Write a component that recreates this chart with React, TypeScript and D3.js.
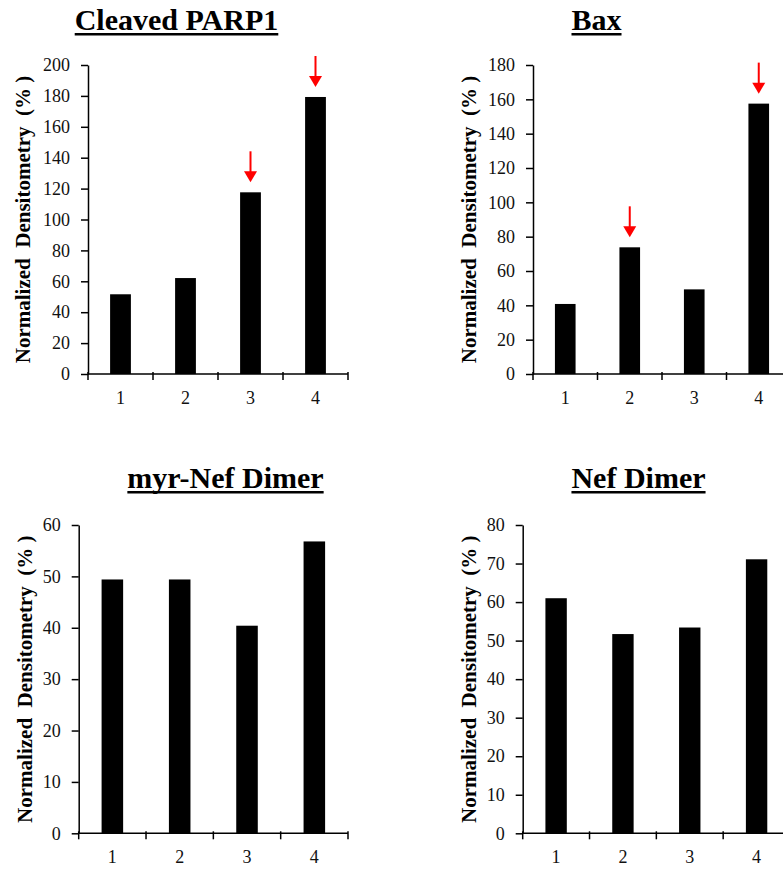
import React, { useEffect, useRef } from "react";
import * as d3 from "d3";

// lanes on the x axis
const categories = ["1", "2", "3", "4"];

// densitometry values (%)
const parpValues = [51.6, 62.1, 117.6, 179.3];
const baxValues = [40.8, 73.8, 49.3, 157.5];
const myrNefValues = [49.4, 49.4, 40.4, 56.8];
const nefValues = [61.0, 51.7, 53.4, 71.1];

const parpTicks = [0, 20, 40, 60, 80, 100, 120, 140, 160, 180, 200];
const baxTicks = [0, 20, 40, 60, 80, 100, 120, 140, 160, 180];
const myrNefTicks = [0, 10, 20, 30, 40, 50, 60];
const nefTicks = [0, 10, 20, 30, 40, 50, 60, 70, 80];

const parpArrows = ["3", "4"];
const baxArrows = ["2", "4"];

const titles = ["Cleaved PARP1", "Bax", "myr-Nef Dimer", "Nef Dimer"];
const yLabel = "Normalized\u00a0\u00a0Densitometry\u00a0\u00a0(%\u00a0)";

const FONT = "'Liberation Serif', 'Times New Roman', serif";

type Panel = {
  title: string;
  values: number[];
  ticks: number[];
  arrows: string[];
  x0: number;
  x1: number;
  y0: number;
  y1: number;
  titleX: number;
  titleY: number;
  labelX: number;
};

const panels: Panel[] = [
  { title: titles[0], values: parpValues, ticks: parpTicks, arrows: parpArrows,
    x0: 88, x1: 348, y0: 374, y1: 65, titleX: 176.5, titleY: 30, labelX: 30 },
  { title: titles[1], values: baxValues, ticks: baxTicks, arrows: baxArrows,
    x0: 533, x1: 791, y0: 374, y1: 65, titleX: 596.5, titleY: 30, labelX: 476 },
  { title: titles[2], values: myrNefValues, ticks: myrNefTicks, arrows: [],
    x0: 78.7, x1: 348, y0: 833.3, y1: 525, titleX: 225.5, titleY: 488, labelX: 31.5 },
  { title: titles[3], values: nefValues, ticks: nefTicks, arrows: [],
    x0: 522.7, x1: 790, y0: 833.3, y1: 525, titleX: 638.5, titleY: 488, labelX: 476 },
];

export default function App() {
  const ref = useRef<SVGSVGElement>(null);

  useEffect(() => {
    const svg = d3.select(ref.current);
    svg.selectAll("*").remove();

    panels.forEach((p) => {
      const g = svg.append("g");
      const x = d3.scaleBand<string>().domain(categories).range([p.x0, p.x1]);
      const y = d3.scaleLinear()
        .domain([0, p.ticks[p.ticks.length - 1]])
        .range([p.y0, p.y1]);
      const bw = x.bandwidth() * 0.32;

      // title with underline
      const t = g.append("text")
        .attr("x", p.titleX)
        .attr("y", p.titleY)
        .attr("text-anchor", "middle")
        .attr("font-family", FONT)
        .attr("font-weight", "bold")
        .attr("font-size", 30)
        .text(p.title);
      const tw = (t.node() as SVGTextElement).getComputedTextLength();
      g.append("rect")
        .attr("x", p.titleX - tw / 2)
        .attr("y", p.titleY + 3)
        .attr("width", tw)
        .attr("height", 2.5)
        .attr("fill", "#000");

      // bars
      g.selectAll("rect.bar")
        .data(p.values)
        .enter()
        .append("rect")
        .attr("class", "bar")
        .attr("x", (d, i) => x(categories[i])! + x.bandwidth() / 2 - bw / 2)
        .attr("y", (d) => y(d))
        .attr("width", bw)
        .attr("height", (d) => y(0) - y(d))
        .attr("fill", "#000");

      // y axis
      const ya = g.append("g")
        .attr("transform", `translate(${p.x0},0)`)
        .call(d3.axisLeft(y).tickValues(p.ticks).tickSize(7).tickSizeOuter(0).tickPadding(11));
      ya.select(".domain").attr("stroke", "#000").attr("stroke-width", 1.5);
      ya.selectAll(".tick line").attr("stroke", "#000").attr("stroke-width", 1.5);
      ya.selectAll(".tick text")
        .attr("font-family", FONT)
        .attr("font-size", 18)
        .attr("fill", "#111");

      // x axis line + crossing ticks at band edges
      g.append("line")
        .attr("x1", p.x0).attr("x2", p.x1)
        .attr("y1", p.y0).attr("y2", p.y0)
        .attr("stroke", "#000").attr("stroke-width", 1.5);
      const edges = categories.map((c) => x(c)!).concat([x.range()[1]]);
      g.selectAll("line.xt")
        .data(edges)
        .enter()
        .append("line")
        .attr("class", "xt")
        .attr("x1", (d) => d).attr("x2", (d) => d)
        .attr("y1", p.y0 - 2).attr("y2", p.y0 + 6)
        .attr("stroke", "#000").attr("stroke-width", 1.5);
      g.selectAll("text.xl")
        .data(categories)
        .enter()
        .append("text")
        .attr("class", "xl")
        .attr("x", (d) => x(d)! + x.bandwidth() / 2)
        .attr("y", p.y0 + 30)
        .attr("text-anchor", "middle")
        .attr("font-family", FONT)
        .attr("font-size", 18)
        .attr("fill", "#111")
        .text((d) => d);

      // y label
      g.append("text")
        .attr("transform", `translate(${p.labelX},${(p.y0 + p.y1) / 2}) rotate(-90)`)
        .attr("text-anchor", "middle")
        .attr("font-family", FONT)
        .attr("font-weight", "bold")
        .attr("font-size", 21)
        .text(yLabel);

      // red arrows above highlighted bars
      p.arrows.forEach((c) => {
        const v = p.values[categories.indexOf(c)];
        const cx = x(c)! + x.bandwidth() / 2;
        const tip = y(v) - 10;
        g.append("line")
          .attr("x1", cx).attr("x2", cx)
          .attr("y1", tip - 31).attr("y2", tip - 9)
          .attr("stroke", "#ff0000").attr("stroke-width", 2);
        g.append("path")
          .attr("d", `M${cx - 6.5},${tip - 11}L${cx + 6.5},${tip - 11}L${cx},${tip}Z`)
          .attr("fill", "#ff0000");
      });
    });
  }, []);

  return (
    <svg
      ref={ref}
      width={783}
      height={869}
      style={{ position: "absolute", left: 0, top: 0, background: "#fff" }}
    />
  );
}
